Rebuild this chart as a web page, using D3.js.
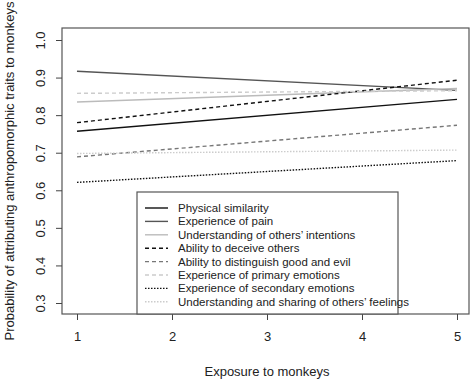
<!DOCTYPE html>
<meta charset="utf-8">
<script src="https://d3js.org/d3.v7.min.js"></script>
<style>
  body { margin: 0; background: #fff; }
  text { font-family: "Liberation Sans", Arial, sans-serif; fill: #222; }
</style>
<div id="my_dataviz"></div>
<script>
// data: fitted value at exposure 1 and at exposure 5
var traits = ["Physical similarity", "Experience of pain", "Understanding of others\u2019 intentions",
  "Ability to deceive others", "Ability to distinguish good and evil", "Experience of primary emotions",
  "Experience of secondary emotions", "Understanding and sharing of others\u2019 feelings"]
var exposure = [1, 5]
var startValues = [0.757, 0.917, 0.835, 0.780, 0.689, 0.858, 0.621, 0.698]
var endValues = [0.842, 0.866, 0.871, 0.893, 0.773, 0.865, 0.679, 0.707]
var xTicks = [1, 2, 3, 4, 5]
var yTicks = [0.3, 0.4, 0.5, 0.6, 0.7, 0.8, 0.9, 1.0]

// line styles for each trait, same order as traits
var strokes = ["#111", "#555", "#bbb", "#111", "#777", "#ccc", "#111", "#ccc"]
var dashes = [null, null, null, "4,3", "4,3", "4,3", "1.5,1.5", "1.5,1.5"]

var width = 474, height = 379
var box = { left: 62, right: 469, top: 28, bottom: 314 }

var svg = d3.select("#my_dataviz").append("svg")
  .attr("width", width).attr("height", height)

var x = d3.scaleLinear().domain([1, 5]).range([77, 457])
var y = d3.scaleLinear().domain([0.3, 1.0]).range([303, 40])

// plot frame
svg.append("rect")
  .attr("x", box.left).attr("y", box.top)
  .attr("width", box.right - box.left).attr("height", box.bottom - box.top)
  .attr("fill", "none").attr("stroke", "#555").attr("stroke-width", 1.2)

// x axis
var xAxis = svg.append("g")
  .attr("transform", "translate(0," + box.bottom + ")")
  .call(d3.axisBottom(x).tickValues(xTicks).tickFormat(d3.format("d")).tickSize(6).tickPadding(12))
xAxis.select(".domain").remove()
xAxis.selectAll("line").attr("stroke", "#444")
xAxis.selectAll("text").style("font-size", "13px").attr("fill", "#222")
  .style("font-family", "Liberation Sans, Arial, sans-serif")

// y axis, labels turned like in R
var yAxis = svg.append("g")
  .attr("transform", "translate(" + box.left + ",0)")
  .call(d3.axisLeft(y).tickValues(yTicks).tickFormat(d3.format(".1f")).tickSize(6))
yAxis.select(".domain").remove()
yAxis.selectAll("line").attr("stroke", "#444")
yAxis.selectAll("text")
  .attr("x", null).attr("dy", null)
  .attr("text-anchor", "middle")
  .attr("transform", "translate(-22,0) rotate(-90)")
  .attr("dy", "0.35em")
  .style("font-size", "13px").attr("fill", "#222")
  .style("font-family", "Liberation Sans, Arial, sans-serif")

// axis titles
svg.append("text")
  .attr("x", x(3)).attr("y", 376)
  .attr("text-anchor", "middle")
  .style("font-size", "13px")
  .text("Exposure to monkeys")

svg.append("text")
  .attr("transform", "translate(14," + 171 + ") rotate(-90)")
  .attr("text-anchor", "middle")
  .style("font-size", "13px")
  .text("Probability of attributing anthropomorphic traits to monkeys")

// trend lines
var line = d3.line()
  .x(function(d) { return x(d[0]) })
  .y(function(d) { return y(d[1]) })

svg.selectAll(".trend")
  .data(traits)
  .enter()
  .append("path")
  .attr("class", "trend")
  .attr("d", function(d, i) {
    return line([[exposure[0], startValues[i]], [exposure[1], endValues[i]]])
  })
  .attr("fill", "none")
  .attr("stroke", function(d, i) { return strokes[i] })
  .attr("stroke-width", 1.4)
  .attr("stroke-dasharray", function(d, i) { return dashes[i] })

// legend box sitting on the bottom axis
var legend = svg.append("g")
legend.append("rect")
  .attr("x", 137).attr("y", 192)
  .attr("width", 261).attr("height", box.bottom - 192)
  .attr("fill", "#fff").attr("stroke", "#555").attr("stroke-width", 1.2)

var rows = legend.selectAll(".row")
  .data(traits)
  .enter()
  .append("g")
  .attr("transform", function(d, i) { return "translate(0," + (208 + i * 13.4) + ")" })

rows.append("line")
  .attr("x1", 145).attr("x2", 168)
  .attr("stroke", function(d, i) { return strokes[i] })
  .attr("stroke-width", 1.4)
  .attr("stroke-dasharray", function(d, i) { return dashes[i] })

rows.append("text")
  .attr("x", 178).attr("dy", "0.35em")
  .style("font-size", "11.5px")
  .text(function(d) { return d })
</script>
